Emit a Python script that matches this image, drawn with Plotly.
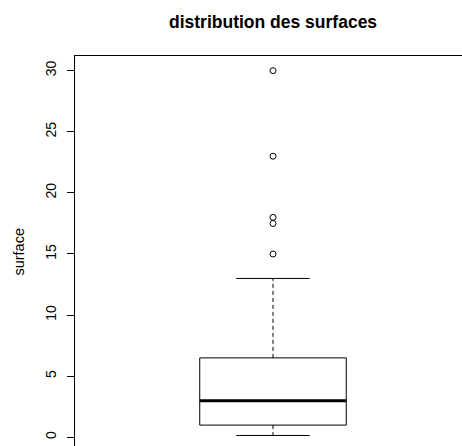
import plotly.graph_objects as go

# ---- data ----
title = "distribution des surfaces"
ylabel = "surface"
q1 = 1.0
median = 3.0
q3 = 6.5
lower_whisker = 0.15
upper_whisker = 13.0
outliers = [15.0, 17.5, 18.0, 23.0, 30.0]
tick_vals = [0, 5, 10, 15, 20, 25, 30]

# ---- geometry / style ----
xc = 1.0
box_half = 0.185
cap_half = 0.0926
col = "#000000"

fig = go.Figure()
# box rectangle
fig.add_trace(go.Scatter(
    x=[xc - box_half, xc + box_half, xc + box_half, xc - box_half, xc - box_half],
    y=[q1, q1, q3, q3, q1], mode="lines",
    line=dict(color=col, width=1), hoverinfo="skip"))
# median
fig.add_trace(go.Scatter(
    x=[xc - box_half, xc + box_half], y=[median, median], mode="lines",
    line=dict(color=col, width=3), hoverinfo="skip"))
# whiskers (dashed)
fig.add_trace(go.Scatter(
    x=[xc, xc, None, xc, xc], y=[q3, upper_whisker, None, q1, lower_whisker],
    mode="lines", line=dict(color=col, width=1, dash="4px,3px"), hoverinfo="skip"))
# caps
fig.add_trace(go.Scatter(
    x=[xc - cap_half, xc + cap_half, None, xc - cap_half, xc + cap_half],
    y=[upper_whisker, upper_whisker, None, lower_whisker, lower_whisker],
    mode="lines", line=dict(color=col, width=1), hoverinfo="skip"))
# outliers
fig.add_trace(go.Scatter(
    x=[xc] * len(outliers), y=outliers, mode="markers",
    marker=dict(symbol="circle-open", size=6, color=col, line=dict(width=1))))

fig.update_layout(
    width=462, height=446,
    margin=dict(l=75, r=0, t=56, b=0),
    plot_bgcolor="white", paper_bgcolor="white",
    showlegend=False,
    font=dict(family="Liberation Sans, Arial", color="#000000"),
    xaxis=dict(range=[0.5, 0.5 + 387 / 396], side="top", showline=True,
               linecolor=col, linewidth=1, showgrid=False, zeroline=False,
               showticklabels=False, ticks=""),
    yaxis=dict(range=[-0.71, 31.2], showline=True, linecolor=col, linewidth=1,
               showgrid=False, zeroline=False, tickvals=tick_vals,
               ticks="outside", ticklen=7, tickcolor=col, tickangle=-90,
               tickfont=dict(size=14, color="#000000"), ticklabelstandoff=5),
    annotations=[
        dict(text="<b>%s</b>" % title, x=xc, xref="x", y=1 + (56 - 22) / 390,
             yref="paper", yanchor="middle", showarrow=False,
             font=dict(size=17.5)),
        dict(text=ylabel, xref="paper", x=0, xanchor="center", xshift=-56,
             yref="y", y=15.2, showarrow=False, textangle=-90,
             font=dict(size=14.5)),
    ],
)

fig.write_html("out.html")
